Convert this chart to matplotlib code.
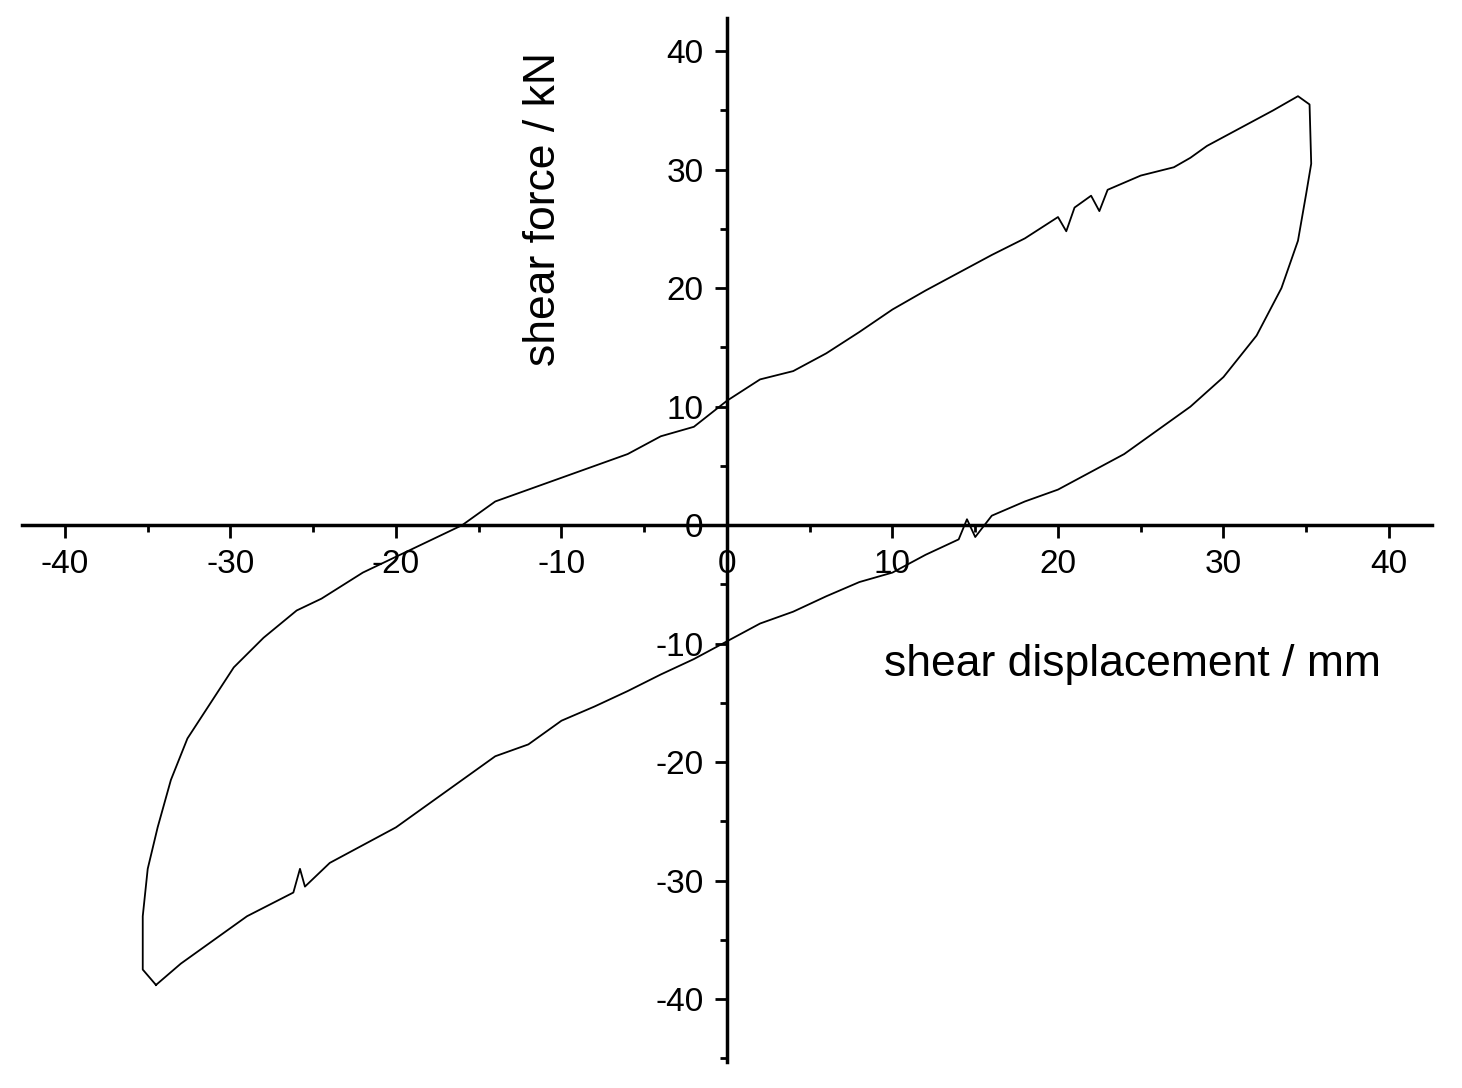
import matplotlib
matplotlib.use("Agg")
import matplotlib.pyplot as plt
from matplotlib.ticker import MultipleLocator

plt.rcParams['font.family'] = ['Liberation Sans', 'DejaVu Sans']
plt.rcParams['axes.unicode_minus'] = False

# upper branch, x increasing
up_x = [-34.5, -35.3, -35.3, -35.0, -34.4, -33.6, -32.6, -31.2, -29.8, -28.0, -26.0, -24.5,
        -22.0, -19.0, -16.0, -14.0, -12.0, -10.0, -6.0, -4.0, -2.0, 0.0, 2.0, 4.0, 6.0, 8.0,
        10.0, 12.0, 14.0, 16.0, 18.0, 20.0, 20.5, 21.0, 22.0, 22.5, 23.0, 25.0, 27.0, 28.0,
        29.0, 31.0, 33.0, 34.5, 35.2, 35.3]
up_y = [-38.8, -37.5, -33.0, -29.0, -25.5, -21.5, -18.0, -15.0, -12.0, -9.5, -7.2, -6.2,
        -4.0, -2.0, 0.0, 2.0, 3.0, 4.0, 6.0, 7.5, 8.3, 10.5, 12.3, 13.0, 14.5, 16.3,
        18.2, 19.8, 21.3, 22.8, 24.2, 26.0, 24.8, 26.8, 27.8, 26.5, 28.3, 29.5, 30.2, 31.0,
        32.0, 33.5, 35.0, 36.2, 35.5, 30.5]
# lower branch, x decreasing
low_x = [35.0, 34.5, 33.5, 32.0, 30.0, 28.0, 26.0, 24.0, 22.0, 20.0, 18.0, 16.0, 15.0,
         14.5, 14.0, 12.0, 10.0, 8.0, 6.0, 4.0, 2.0, 0.0, -2.0, -4.0, -6.0, -8.0, -10.0,
         -12.0, -14.0, -16.0, -18.0, -20.0, -22.0, -24.0, -25.5, -25.8, -26.2, -29.0, -31.0,
         -33.0, -34.5]
low_y = [28.0, 24.0, 20.0, 16.0, 12.5, 10.0, 8.0, 6.0, 4.5, 3.0, 2.0, 0.8, -1.0,
         0.5, -1.2, -2.5, -4.0, -4.8, -6.0, -7.3, -8.3, -9.8, -11.3, -12.6, -14.0, -15.3, -16.5,
         -18.5, -19.5, -21.5, -23.5, -25.5, -27.0, -28.5, -30.5, -29.0, -31.0, -33.0, -35.0,
         -37.0, -38.8]

x_ticks = [-40, -30, -20, -10, 0, 10, 20, 30, 40]
y_ticks = [-40, -30, -20, -10, 0, 10, 20, 30, 40]

fig = plt.figure(figsize=(14.62, 10.88), dpi=100)
ax = fig.add_axes([0.015, 0.0239, 0.9645, 0.9596])
ax.plot(up_x + low_x, up_y + low_y, color='black', lw=1.3)

ax.set_xlim(-42.6, 42.6)
ax.set_ylim(-45.3, 42.8)
for s in ['top', 'right']:
    ax.spines[s].set_visible(False)
ax.spines['left'].set_position(('data', 0))
ax.spines['bottom'].set_position(('data', 0))
for s in ['left', 'bottom']:
    ax.spines[s].set_linewidth(2.5)

ax.set_xticks(x_ticks)
ax.set_yticks(y_ticks)
ax.xaxis.set_minor_locator(MultipleLocator(5))
ax.yaxis.set_minor_locator(MultipleLocator(5))
ax.tick_params(which='major', direction='out', length=9, width=2, labelsize=24, pad=8)
ax.tick_params(which='minor', direction='out', length=5, width=2)

ax.text(-11.1, 26.7, 'shear force / kN', rotation=90, fontsize=32,
        ha='center', va='center')
ax.text(24.5, -11.8, 'shear displacement / mm', fontsize=32, ha='center', va='center')

fig.savefig('out.png', dpi=100)
